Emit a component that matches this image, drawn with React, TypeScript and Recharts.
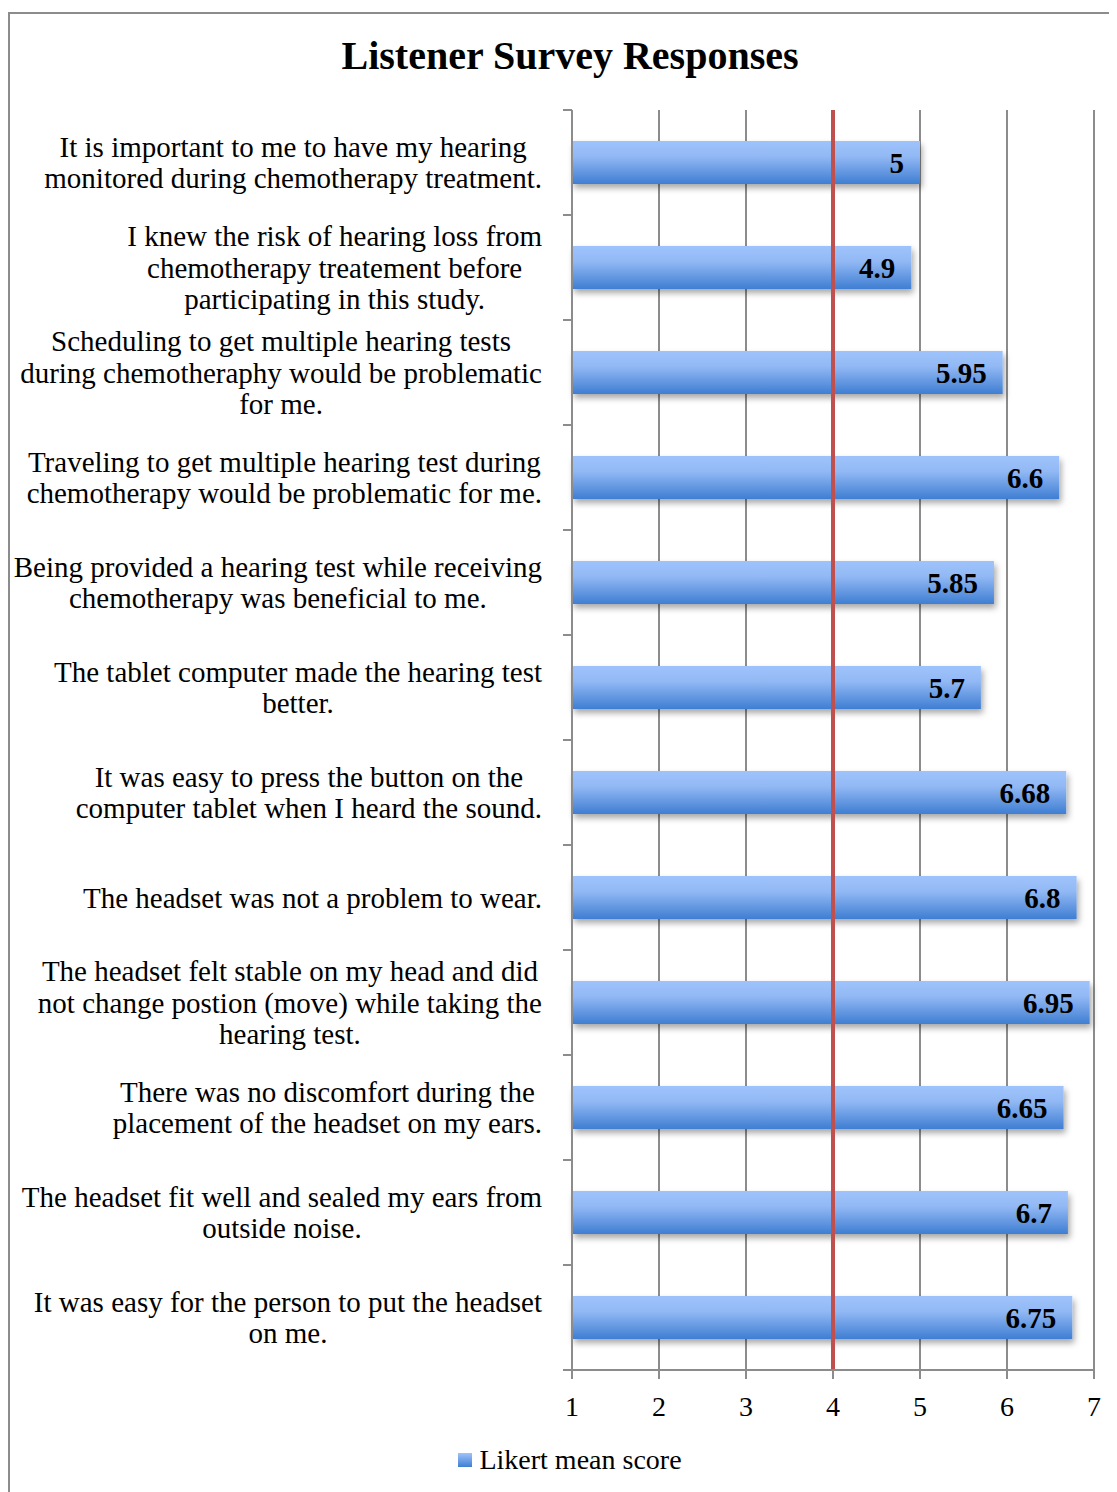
import React from "react";
import {
  BarChart, Bar, XAxis, YAxis, CartesianGrid, ReferenceLine, LabelList, Legend,
} from "recharts";

// survey statements, top to bottom (line breaks as in the original figure)
const statements = [
  "It is important to me to have my hearing\nmonitored during chemotherapy treatment.",
  "I knew the risk of hearing loss from\nchemotherapy treatement before\nparticipating in this study.",
  "Scheduling to get multiple hearing tests\nduring chemotheraphy would be problematic\nfor me.",
  "Traveling to get multiple hearing test during\nchemotherapy would be problematic for me.",
  "Being provided a hearing test while receiving\nchemotherapy was beneficial to me.",
  "The tablet computer made the hearing test\nbetter.",
  "It was easy to press the button on the\ncomputer tablet when I heard the sound.",
  "The headset was not a problem to wear.",
  "The headset felt stable on my head and did\nnot change postion (move) while taking the\nhearing test.",
  "There was no discomfort during the\nplacement of the headset on my ears.",
  "The headset fit well and sealed my ears from\noutside noise.",
  "It was easy for the person to put the headset\non me.",
];
const meanScores = [5, 4.9, 5.95, 6.6, 5.85, 5.7, 6.68, 6.8, 6.95, 6.65, 6.7, 6.75];
const scoreTicks = [1, 2, 3, 4, 5, 6, 7];
const neutralScore = 4;
const seriesName = "Likert mean score";

const data = statements.map((s, i) => ({ statement: s, score: meanScores[i] }));

const FONT = "'Liberation Serif', 'Times New Roman', serif";
const LABEL_SIZE = 29;
const LINE_H = 31.5;
const W = 1107;
const H = 1478;
const MARGIN = { top: 96, right: 23, left: 10, bottom: 12 };
const Y_AXIS_W = 552;
const PLOT_LEFT = MARGIN.left + Y_AXIS_W;
const PLOT_H = 1260;
const BAND = PLOT_H / statements.length;
const AXIS_GREY = "#8c8c8c";

let ctx: CanvasRenderingContext2D | null = null;
const textWidth = (t: string) => {
  if (!ctx) ctx = document.createElement("canvas").getContext("2d");
  if (!ctx) return t.length * 13;
  ctx.font = `${LABEL_SIZE}px ${FONT}`;
  return ctx.measureText(t).width;
};

const StatementTick = ({ y, payload }: any) => {
  const lines = String(payload.value).split("\n");
  const w = Math.max(...lines.map(textWidth));
  const cx = PLOT_LEFT - 30 - w / 2;
  const top = y - ((lines.length - 1) * LINE_H) / 2;
  const last = payload.value === statements[statements.length - 1];
  return (
    <g>
      <text textAnchor="middle" fontFamily={FONT} fontSize={LABEL_SIZE} fill="#000">
        {lines.map((l, i) => (
          <tspan key={i} x={cx} y={top + i * LINE_H} dy="0.35em">{l}</tspan>
        ))}
      </text>
      <line x1={PLOT_LEFT - 9} x2={PLOT_LEFT} y1={y - BAND / 2} y2={y - BAND / 2} stroke={AXIS_GREY} strokeWidth={2} />
      {last && (
        <line x1={PLOT_LEFT - 9} x2={PLOT_LEFT} y1={y + BAND / 2} y2={y + BAND / 2} stroke={AXIS_GREY} strokeWidth={2} />
      )}
    </g>
  );
};

const GradientBar = (props: any) => {
  const { x, y, width, height } = props;
  return <rect x={x} y={y} width={width} height={height} fill="url(#barFill)" filter="url(#barShadow)" />;
};

const LegendBox = () => (
  <div style={{ height: 40, display: "flex", justifyContent: "center", alignItems: "center", fontFamily: FONT, fontSize: 28 }}>
    <span style={{ width: 14, height: 14, background: "linear-gradient(#9ec3fc, #3f7ed2)", marginRight: 7, display: "inline-block" }} />
    <span>{seriesName}</span>
  </div>
);

export default function App() {
  return (
    <div
      style={{
        marginTop: 4, width: W, height: H, position: "relative",
        borderLeft: `2px solid ${AXIS_GREY}`, borderTop: `2px solid ${AXIS_GREY}`,
      }}
    >
      <div
        style={{
          position: "absolute", top: 22, left: 0, width: 1120, textAlign: "center",
          fontFamily: FONT, fontWeight: "bold", fontSize: 40, lineHeight: "40px", zIndex: 2,
        }}
      >
        Listener Survey Responses
      </div>
      <BarChart width={W} height={H} data={data} layout="vertical" margin={MARGIN}>
        <defs>
          <linearGradient id="barFill" x1="0" y1="0" x2="0" y2="1">
            <stop offset="0%" stopColor="#9ec3fc" />
            <stop offset="35%" stopColor="#93b9f5" />
            <stop offset="100%" stopColor="#3f7ed2" />
          </linearGradient>
          <filter id="barShadow" x="-5%" y="-30%" width="110%" height="190%">
            <feDropShadow dx="2" dy="4" stdDeviation="3" floodColor="#000" floodOpacity="0.35" />
          </filter>
        </defs>
        <CartesianGrid horizontal={false} stroke={AXIS_GREY} strokeWidth={2} />
        <XAxis
          type="number"
          domain={[1, 7]}
          ticks={scoreTicks}
          height={70}
          tickSize={9}
          tickMargin={17}
          axisLine={{ stroke: AXIS_GREY, strokeWidth: 2 }}
          tickLine={{ stroke: AXIS_GREY, strokeWidth: 2 }}
          tick={{ fill: "#000", fontSize: 28, fontFamily: FONT }}
        />
        <YAxis
          type="category"
          dataKey="statement"
          width={Y_AXIS_W}
          axisLine={{ stroke: AXIS_GREY, strokeWidth: 2 }}
          tickLine={false}
          interval={0}
          tick={<StatementTick />}
        />
        <Legend verticalAlign="bottom" content={<LegendBox />} wrapperStyle={{ left: 0, width: 1120 }} />
        <Bar dataKey="score" name={seriesName} barSize={43} shape={<GradientBar />} isAnimationActive={false}>
          <LabelList
            dataKey="score"
            position="insideRight"
            offset={16}
            fill="#000"
            fontFamily={FONT}
            fontWeight="bold"
            fontSize={29}
          />
        </Bar>
        <ReferenceLine x={neutralScore} stroke="#c0504d" strokeWidth={4} />
      </BarChart>
    </div>
  );
}
